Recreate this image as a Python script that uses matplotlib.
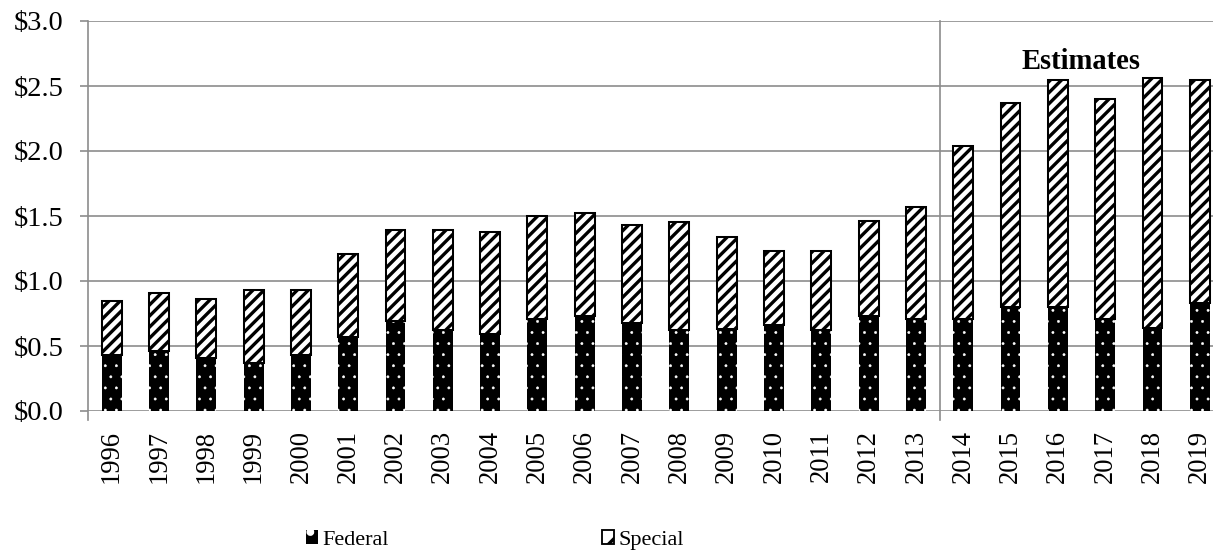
import numpy as np
import matplotlib.pyplot as plt
from matplotlib.patches import Patch

years = [str(y) for y in range(1996, 2020)]
federal = [0.43, 0.46, 0.41, 0.37, 0.43, 0.57, 0.69, 0.62, 0.59, 0.71, 0.73, 0.68,
           0.62, 0.63, 0.66, 0.62, 0.73, 0.71, 0.71, 0.80, 0.80, 0.71, 0.64, 0.83]
total = [0.85, 0.91, 0.86, 0.93, 0.93, 1.21, 1.39, 1.39, 1.38, 1.50, 1.52, 1.43,
         1.45, 1.34, 1.23, 1.23, 1.46, 1.57, 2.04, 2.37, 2.55, 2.40, 2.56, 2.55]
special = [t - f for t, f in zip(total, federal)]
yticks = [0.0, 0.5, 1.0, 1.5, 2.0, 2.5, 3.0]

plt.rcParams['font.family'] = 'Liberation Serif'
plt.rcParams['hatch.linewidth'] = 1.8

dpi = 133.33
fig = plt.figure(figsize=(1213 / dpi, 554 / dpi), dpi=dpi)
ax = fig.add_axes([88 / 1213, 143 / 554, 1125 / 1213, 390 / 554])

x = np.arange(len(years))
w = 0.42
grid_c = '#8c8c8c'

for yv in yticks:
    ax.axhline(yv, color=grid_c, lw=0.9, zorder=0)

# federal: black with small white dots, special: white with black diagonal stripes
fed_bars = ax.bar(x, federal, w, color='black', edgecolor='white', hatch='..',
                  lw=0, zorder=2)
ax.bar(x, special, w, bottom=federal, color='white', edgecolor='black',
       hatch='////', lw=1.1, zorder=2)
for b in fed_bars:
    if hasattr(b, 'set_hatch_linewidth'):
        b.set_hatch_linewidth(0.3)

# split between actuals and estimates
ax.plot([17.5, 17.5], [-0.07, 3.0], color=grid_c, lw=0.9, clip_on=False, zorder=1)
ax.text(20.5, 2.69, 'Estimates', fontsize=15.5, fontweight='bold',
        ha='center', va='center')

ax.set_xlim(-0.5, 23.28)
ax.set_ylim(0, 3.0)
ax.set_xticks(x)
ax.set_xticklabels(years, rotation=90, fontsize=14.4)
ax.tick_params(axis='x', length=0, pad=10)
ax.set_yticks(yticks)
ax.set_yticklabels(['$%.1f' % v for v in yticks], fontsize=15.4)
ax.tick_params(axis='y', length=4.3, width=0.9, color=grid_c, pad=9)

for s in ['top', 'right', 'bottom']:
    ax.spines[s].set_visible(False)
ax.spines['left'].set_color(grid_c)
ax.spines['left'].set_linewidth(0.9)
ax.spines['left'].set_bounds(-0.07, 3.0)

fed_patch = Patch(facecolor='black', edgecolor='white', hatch='.', lw=0)
if hasattr(fed_patch, 'set_hatch_linewidth'):
    fed_patch.set_hatch_linewidth(0.3)
handles = [fed_patch,
           Patch(facecolor='white', edgecolor='black', hatch='//', lw=1.0)]
fig.legend(handles, ['Federal', 'Special'], loc='center', ncol=2, frameon=False,
           bbox_to_anchor=(990 / 2 / 1213, 1 - 540 / 554),
           fontsize=12, handlelength=0.55, handleheight=0.55, handletextpad=0.2,
           columnspacing=9.6)

fig.savefig('out.png', dpi=dpi)
